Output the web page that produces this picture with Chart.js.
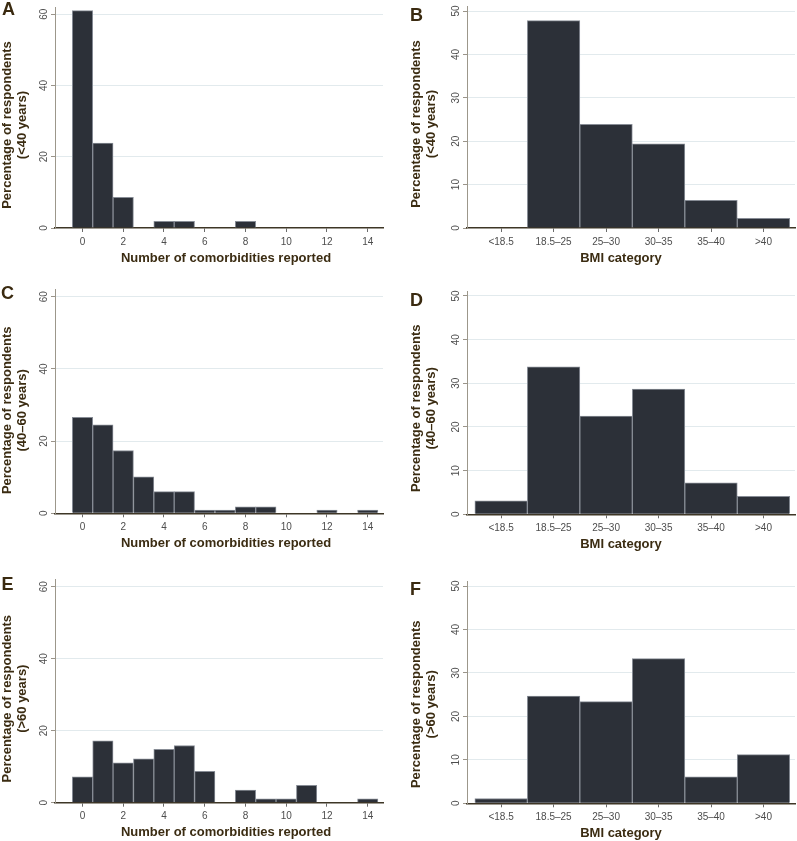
<!DOCTYPE html>
<html>
<head>
  <title>Comorbidities and BMI by age group</title>
  <script src="https://cdn.jsdelivr.net/npm/chart.js"></script>
  <style>
    body { margin: 0; background: #fff; }
    #wrap { position: relative; width: 797px; height: 841px; }
    .panel { position: absolute; }
    .letter { position: absolute; font: bold 18px "Liberation Sans", Arial, sans-serif; line-height: 18px; color: #3a2a10; }
  </style>
</head>
<body>
<div id="wrap">
  <div class="panel" style="left:0;top:0"><canvas id="chartA" width="400" height="280"></canvas></div>
  <div class="panel" style="left:400px;top:0"><canvas id="chartB" width="397" height="280"></canvas></div>
  <div class="panel" style="left:0;top:280px"><canvas id="chartC" width="400" height="280"></canvas></div>
  <div class="panel" style="left:400px;top:280px"><canvas id="chartD" width="397" height="280"></canvas></div>
  <div class="panel" style="left:0;top:560px"><canvas id="chartE" width="400" height="281"></canvas></div>
  <div class="panel" style="left:400px;top:560px"><canvas id="chartF" width="397" height="281"></canvas></div>
  <div class="letter" style="left:2px;top:0">A</div>
  <div class="letter" style="left:410px;top:6px">B</div>
  <div class="letter" style="left:1px;top:284px">C</div>
  <div class="letter" style="left:410px;top:291px">D</div>
  <div class="letter" style="left:1.5px;top:575px">E</div>
  <div class="letter" style="left:410px;top:580px">F</div>
</div>

<script>
  // number of comorbidities (x) and percentage of respondents per age group
  const comorbCounts = [0, 1, 2, 3, 4, 5, 6, 7, 8, 9, 10, 11, 12, 13, 14];
  const comorbUnder40 = [61, 23.8, 8.6, 0, 1.9, 1.9, 0, 0, 1.9, 0, 0, 0, 0, 0, 0];
  const comorb40to60 = [26.6, 24.5, 17.4, 10.1, 6.0, 6.0, 0.9, 0.9, 1.8, 1.8, 0, 0, 0.9, 0, 0.9];
  const comorbOver60 = [7.2, 17.2, 11.1, 12.2, 14.8, 15.9, 8.7, 0, 3.5, 1.1, 1.1, 4.8, 0, 0, 1.1];

  // BMI category and percentage of respondents per age group
  const bmiCategories = ['<18.5', '18.5–25', '25–30', '30–35', '35–40', '>40'];
  const bmiUnder40 = [0, 47.8, 23.9, 19.4, 6.4, 2.2];
  const bmi40to60 = [3.1, 33.8, 22.5, 28.7, 7.2, 4.1];
  const bmiOver60 = [1.1, 24.7, 23.4, 33.3, 6.1, 11.2];

  // tick values
  const comorbXTicks = [0, 2, 4, 6, 8, 10, 12, 14];
  const comorbYTicks = [0, 20, 40, 60];
  const bmiXTicks = [0, 1, 2, 3, 4, 5];
  const bmiYTicks = [0, 10, 20, 30, 40, 50];

  const FONT = '"Liberation Sans", Arial, sans-serif';
  const TITLE_COLOR = '#3b2c12';
  const TICK_COLOR = '#4d4d4d';

  // draws the rotated y tick labels and both axis titles
  const panelText = {
    id: 'panelText',
    afterDraw(chart, args, opts) {
      const ctx = chart.ctx;
      const y = chart.scales.y;
      const area = chart.chartArea;
      ctx.save();
      ctx.textAlign = 'center';
      ctx.textBaseline = 'middle';

      ctx.font = '10px ' + FONT;
      ctx.fillStyle = TICK_COLOR;
      y.ticks.forEach(t => {
        ctx.save();
        ctx.translate(area.left - 11, y.getPixelForValue(t.value));
        ctx.rotate(-Math.PI / 2);
        ctx.fillText(String(t.value), 0, 0);
        ctx.restore();
      });

      ctx.font = 'bold 13px ' + FONT;
      ctx.fillStyle = TITLE_COLOR;
      opts.yTitle.forEach((line, i) => {
        ctx.save();
        ctx.translate(opts.yTitleX + i * 14.5, area.bottom - opts.yTitleUp);
        ctx.rotate(-Math.PI / 2);
        ctx.fillText(line, 0, 0);
        ctx.restore();
      });
      ctx.fillText(opts.xTitle, opts.xTitleX, area.bottom + 30);
      ctx.restore();
    }
  };

  function makeHistogram(id, xs, ys, o) {
    const points = xs.map((x, i) => ({ x: x, y: ys[i] > 0 ? ys[i] : null }));
    return new Chart(document.getElementById(id), {
      type: 'bar',
      data: {
        datasets: [{
          data: points,
          backgroundColor: '#2c3038',
          borderColor: '#878c95',
          borderWidth: 1,
          categoryPercentage: 1,
          barPercentage: 1
        }]
      },
      options: {
        responsive: false,
        animation: false,
        layout: { padding: { top: o.top, right: o.w - o.right, bottom: 0, left: 0 } },
        plugins: {
          legend: { display: false },
          tooltip: { enabled: false },
          panelText: { yTitle: o.yTitle, xTitle: o.xTitle, yTitleX: o.yTitleX, yTitleUp: o.yTitleUp, xTitleX: o.xTitleX }
        },
        scales: {
          x: {
            type: 'linear',
            offset: false,
            min: o.xMin,
            max: o.xMax,
            afterBuildTicks: s => { s.ticks = o.xTicks.map(v => ({ value: v })); },
            afterFit: s => { s.height = o.h - o.bottom; },
            ticks: {
              padding: 4,
              color: TICK_COLOR,
              font: { family: FONT, size: 10 },
              callback: o.xLabel
            },
            grid: { offset: false, drawOnChartArea: false, drawTicks: true, tickLength: 4, tickColor: '#6b6b6b' },
            border: { color: '#3e3626', width: 1.5 }
          },
          y: {
            min: 0,
            max: o.yMax,
            afterBuildTicks: s => { s.ticks = o.yTicks.map(v => ({ value: v })); },
            afterFit: s => { s.width = o.left; },
            ticks: { display: false },
            grid: {
              color: c => (c.tick && c.tick.value === 0) ? 'rgba(0,0,0,0)' : '#e2eaed',
              tickLength: 4,
              tickColor: '#9a948a'
            },
            border: { color: '#9c978b', width: 1 }
          }
        }
      },
      plugins: [panelText]
    });
  }

  const comorbBase = {
    w: 400, left: 55, right: 383, xMin: -1.35, xMax: 14.75, yMax: 62,
    xTicks: comorbXTicks, yTicks: comorbYTicks, xLabel: v => String(v),
    xTitle: 'Number of comorbidities reported', xTitleX: 226, yTitleX: 7.5
  };
  const bmiBase = {
    w: 397, left: 67, right: 395, xMin: -0.65, xMax: 5.6, yMax: 51,
    xTicks: bmiXTicks, yTicks: bmiYTicks, xLabel: v => bmiCategories[v],
    xTitle: 'BMI category', xTitleX: 221, yTitleX: 16.5
  };

  makeHistogram('chartA', comorbCounts, comorbUnder40, Object.assign({}, comorbBase,
    { h: 280, top: 7, bottom: 228, yTitleUp: 103, yTitle: ['Percentage of respondents', '(<40 years)'] }));
  makeHistogram('chartC', comorbCounts, comorb40to60, Object.assign({}, comorbBase,
    { h: 280, top: 9.5, bottom: 233.3, yTitleUp: 103, yTitle: ['Percentage of respondents', '(40–60 years)'] }));
  makeHistogram('chartE', comorbCounts, comorbOver60, Object.assign({}, comorbBase,
    { h: 281, top: 19.5, bottom: 242.7, yTitleUp: 104, yTitle: ['Percentage of respondents', '(>60 years)'] }));

  makeHistogram('chartB', bmiXTicks, bmiUnder40, Object.assign({}, bmiBase,
    { h: 280, top: 6.7, bottom: 228, yTitleUp: 104, yTitle: ['Percentage of respondents', '(<40 years)'] }));
  makeHistogram('chartD', bmiXTicks, bmi40to60, Object.assign({}, bmiBase,
    { h: 280, top: 11.6, bottom: 234.3, yTitleUp: 106, yTitle: ['Percentage of respondents', '(40–60 years)'] }));
  makeHistogram('chartF', bmiXTicks, bmiOver60, Object.assign({}, bmiBase,
    { h: 281, top: 21.7, bottom: 243.3, yTitleUp: 99, yTitle: ['Percentage of respondents', '(>60 years)'] }));
</script>
</body>
</html>
